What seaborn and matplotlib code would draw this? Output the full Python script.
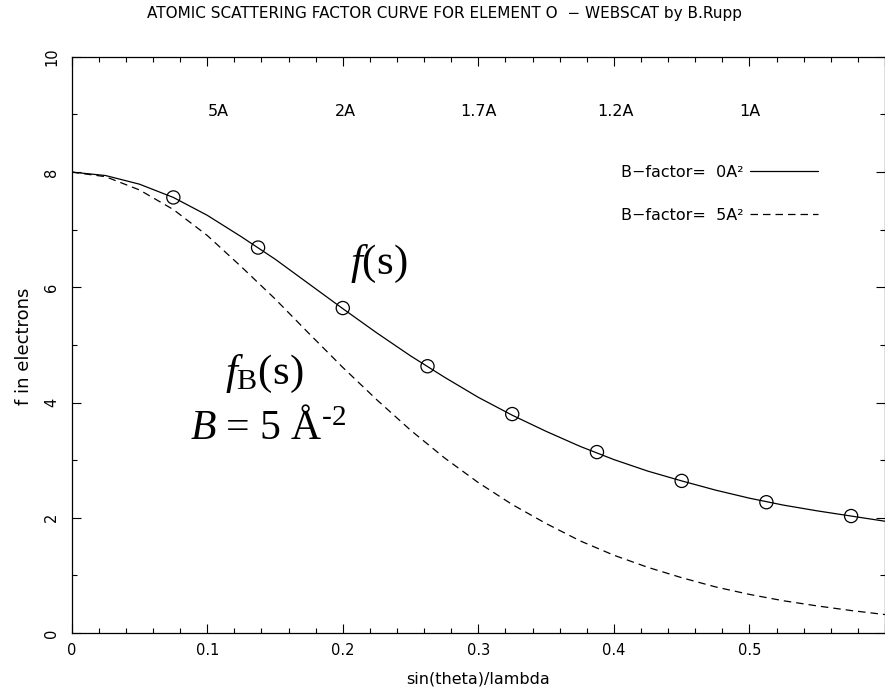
import numpy as np
import pandas as pd
import matplotlib
matplotlib.use("Agg")
import matplotlib.pyplot as plt
import seaborn as sns
from matplotlib.ticker import MultipleLocator, FuncFormatter

# sin(theta)/lambda grid and read-off scattering factors for oxygen
s_grid = [0.0, 0.025, 0.05, 0.075, 0.1, 0.125, 0.15, 0.175, 0.2, 0.225, 0.25, 0.275,
          0.3, 0.325, 0.35, 0.375, 0.4, 0.425, 0.45, 0.475, 0.5, 0.525, 0.55, 0.575, 0.6]
f_b0 = [8.00, 7.94, 7.79, 7.56, 7.25, 6.88, 6.49, 6.06, 5.63, 5.21, 4.81, 4.44,
        4.09, 3.78, 3.50, 3.24, 3.01, 2.81, 2.64, 2.48, 2.34, 2.22, 2.12, 2.03, 1.94]
f_b5 = [8.00, 7.92, 7.69, 7.35, 6.90, 6.36, 5.80, 5.20, 4.61, 4.05, 3.52, 3.04,
        2.61, 2.23, 1.90, 1.60, 1.35, 1.14, 0.96, 0.80, 0.67, 0.56, 0.47, 0.39, 0.32]

# circled sample points on the B=0 curve
s_marks = [0.075, 0.1375, 0.2, 0.2625, 0.325, 0.3875, 0.45, 0.5125, 0.575]
f_marks = [7.56, 6.69, 5.64, 4.63, 3.80, 3.14, 2.64, 2.27, 2.03]

# resolution labels along the top
res_labels = ["5A", "2A", "1.7A", "1.2A", "1A"]
res_pos = [0.108, 0.202, 0.300, 0.401, 0.500]

df = pd.DataFrame({"s": s_grid, "f0": f_b0, "f5": f_b5})

sns.set_style("ticks", {"text.color": "black", "axes.labelcolor": "black",
                        "xtick.color": "black", "ytick.color": "black",
                        "axes.edgecolor": "black"})
plt.rcParams["font.family"] = ["DejaVu Sans"]
plt.rcParams["mathtext.fontset"] = "custom"
plt.rcParams["mathtext.rm"] = "Liberation Serif"
plt.rcParams["mathtext.it"] = "Liberation Serif:italic"
plt.rcParams["mathtext.bf"] = "Liberation Serif:bold"

fig = plt.figure(figsize=(8.85, 6.95), dpi=100)
ax = fig.add_axes([0.081, 0.0892, 0.919, 0.829])

sns.lineplot(data=df, x="s", y="f0", ax=ax, color="black", lw=0.9,
             label="B\u2212factor=  0A\u00b2")
sns.lineplot(data=df, x="s", y="f5", ax=ax, color="black", lw=0.9,
             linestyle=(0, (6, 4)), label="B\u2212factor=  5A\u00b2")
sns.scatterplot(x=s_marks, y=f_marks, ax=ax, marker="o", s=90,
                facecolor="none", edgecolor="black", linewidth=0.9, zorder=3)

ax.set_xlim(0, 0.6)
ax.set_ylim(0, 10)
ax.xaxis.set_major_locator(MultipleLocator(0.1))
ax.xaxis.set_minor_locator(MultipleLocator(0.02))
ax.yaxis.set_major_locator(MultipleLocator(2))
ax.yaxis.set_minor_locator(MultipleLocator(1))
ax.xaxis.set_major_formatter(FuncFormatter(lambda v, p: "" if v > 0.55 else f"{v:g}"))
ax.tick_params(which="both", direction="in", top=True, right=True, width=0.8,
               labelsize=10.5, colors="black")
ax.tick_params(which="major", length=6.5, pad=7)
ax.tick_params(axis="y", which="major", pad=9)
ax.tick_params(which="minor", length=3.5)
plt.setp(ax.get_yticklabels(), rotation=90, va="center")
for sp in ax.spines.values():
    sp.set_linewidth(0.9)
    sp.set_color("black")

ax.set_xlabel("sin(theta)/lambda", fontsize=11.5)
ax.set_ylabel("f in electrons", fontsize=13)
ax.xaxis.set_label_coords(0.5, -0.066)
ax.yaxis.set_label_coords(-0.048, 0.497)

fig.suptitle("ATOMIC SCATTERING FACTOR CURVE FOR ELEMENT O  \u2212 WEBSCAT by B.Rupp",
             x=0.502, y=0.992, fontsize=11)

for lab, xp in zip(res_labels, res_pos):
    ax.text(xp, 9.05, lab, ha="center", va="center", fontsize=11.5)

serif = ["Liberation Serif", "DejaVu Serif"]
ax.text(0.205, 6.24, r"$f$(s)", fontsize=31, family=serif, ha="left", va="baseline")
ax.text(0.113, 4.32, r"$f_{\mathrm{B}}$(s)", fontsize=31, family=serif, ha="left", va="baseline")
ax.text(0.087, 3.36, "$B$ = 5 Å$^{\\mathrm{\u2010}2}$", fontsize=30, family=serif,
        ha="left", va="baseline")

ax.legend(loc="upper right", bbox_to_anchor=(0.928, 0.826), frameon=False,
          markerfirst=False, handlelength=4.3, handletextpad=0.4,
          labelspacing=1.75, borderpad=0, fontsize=11.5)

fig.savefig("out.png", dpi=100)
